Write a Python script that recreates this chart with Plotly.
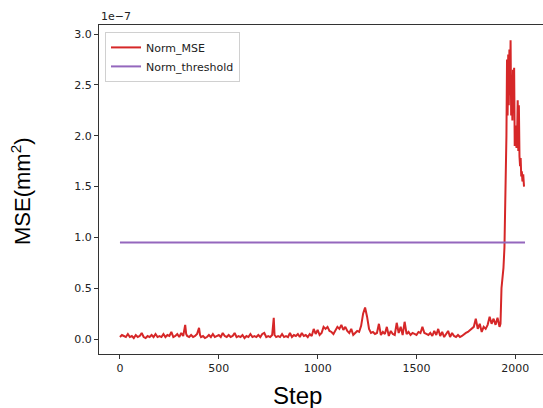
from plotly import graph_objects as go

# MSE values in units of 1e-7
steps = [
    0, 10, 20, 30, 40, 50, 60, 70, 80, 90, 100, 110, 120, 130, 140, 150, 160, 170, 180, 190,
    200, 210, 220, 230, 240, 250, 260, 270, 280, 290, 300, 310, 320, 330, 335, 340, 350, 360, 370, 380,
    390, 400, 405, 410, 420, 430, 440, 450, 460, 470, 480, 490, 500, 510, 520, 530, 540, 550, 560, 570,
    580, 590, 600, 610, 620, 630, 640, 650, 660, 670, 680, 690, 700, 710, 720, 730, 740, 750, 760, 770,
    778, 782, 790, 800, 810, 820, 830, 840, 850, 860, 870, 880, 890, 900, 910, 920, 930, 940, 950, 960,
    970, 980, 990, 1000, 1010, 1020, 1030, 1040, 1050, 1060, 1070, 1080, 1090, 1100, 1110, 1120, 1130, 1140, 1150, 1160,
    1170, 1180, 1190, 1200, 1210, 1220, 1230, 1240, 1250, 1260, 1270, 1280, 1290, 1300, 1310, 1320, 1330, 1340, 1350, 1360,
    1370, 1380, 1390, 1400, 1410, 1420, 1430, 1440, 1450, 1460, 1470, 1480, 1490, 1500, 1510, 1520, 1530, 1540, 1550, 1560,
    1570, 1580, 1590, 1600, 1610, 1620, 1630, 1640, 1650, 1660, 1670, 1680, 1690, 1700, 1710, 1720, 1730, 1740, 1750, 1760,
    1770, 1780, 1790, 1800, 1810, 1820, 1830, 1840, 1850, 1860, 1870, 1880, 1890, 1900, 1910, 1920, 1925, 1930, 1935, 1940,
    1945, 1950, 1955, 1958, 1961, 1964, 1967, 1970, 1973, 1976, 1979, 1982, 1985, 1988, 1991, 1994, 1997, 2000, 2003, 2006,
    2009, 2012, 2015, 2018, 2021, 2024, 2027, 2030, 2033, 2036, 2040, 2044,
]
norm_mse = [
    0.02, 0.04, 0.03, 0.02, 0.05, 0.02, 0.03, 0.01, 0.04, 0.02, 0.03, 0.06, 0.02, 0.01, 0.03, 0.02, 0.04, 0.02, 0.05, 0.02,
    0.03, 0.02, 0.05, 0.02, 0.04, 0.03, 0.07, 0.02, 0.03, 0.05, 0.02, 0.06, 0.03, 0.14, 0.05, 0.03, 0.02, 0.04, 0.02, 0.03,
    0.05, 0.11, 0.04, 0.02, 0.03, 0.01, 0.02, 0.04, 0.02, 0.05, 0.02, 0.03, 0.04, 0.02, 0.06, 0.03, 0.02, 0.04, 0.02, 0.03,
    0.06, 0.02, 0.03, 0.02, 0.04, 0.01, 0.03, 0.02, 0.05, 0.02, 0.03, 0.02, 0.04, 0.02, 0.05, 0.06, 0.02, 0.03, 0.02, 0.04,
    0.21, 0.04, 0.02, 0.03, 0.02, 0.05, 0.02, 0.03, 0.02, 0.06, 0.02, 0.04, 0.03, 0.05, 0.02, 0.06, 0.03, 0.04, 0.02, 0.05,
    0.03, 0.10, 0.05, 0.09, 0.04, 0.06, 0.12, 0.10, 0.12, 0.08, 0.07, 0.05, 0.09, 0.12, 0.10, 0.14, 0.09, 0.12, 0.08, 0.06,
    0.10, 0.04, 0.06, 0.08, 0.07, 0.13, 0.25, 0.31, 0.22, 0.10, 0.06, 0.07, 0.05, 0.06, 0.15, 0.04, 0.07, 0.05, 0.12, 0.03,
    0.08, 0.05, 0.04, 0.16, 0.06, 0.12, 0.04, 0.17, 0.05, 0.07, 0.04, 0.06, 0.05, 0.04, 0.07, 0.06, 0.12, 0.06, 0.05, 0.04,
    0.06, 0.03, 0.08, 0.04, 0.10, 0.03, 0.07, 0.02, 0.05, 0.08, 0.02, 0.06, 0.03, 0.02, 0.04, 0.02, 0.03, 0.05, 0.06, 0.07,
    0.09, 0.10, 0.12, 0.20, 0.10, 0.15, 0.07, 0.12, 0.10, 0.14, 0.22, 0.15, 0.20, 0.14, 0.21, 0.12, 0.15, 0.50, 0.60, 0.70,
    0.90, 1.30, 2.00, 2.75, 2.20, 2.80, 2.30, 2.85, 2.40, 2.94, 2.20, 2.60, 2.15, 2.65, 2.50, 2.67, 1.90, 2.10, 1.95, 1.88,
    2.00, 2.35, 1.85, 2.30, 1.80, 1.70, 1.78, 1.60, 1.65, 1.55, 1.62, 1.50,
]
threshold_steps = [0, 2049]
norm_threshold = [0.95, 0.95]

fig = go.Figure()
fig.add_trace(go.Scatter(
    x=steps, y=norm_mse, mode='lines', name='Norm_MSE',
    line=dict(color='#d62728', width=2)
))
fig.add_trace(go.Scatter(
    x=threshold_steps, y=norm_threshold, mode='lines', name='Norm_threshold',
    line=dict(color='#9467bd', width=2)
))

tick_font = dict(family='DejaVu Sans', size=11, color='#222')
fig.update_layout(
    width=543, height=408,
    margin=dict(l=99, r=0, t=25, b=54),
    plot_bgcolor='white', paper_bgcolor='white',
    showlegend=True,
    legend=dict(
        x=0.0135, y=0.979, xanchor='left', yanchor='top',
        bgcolor='white', bordercolor='#d0d0d0', borderwidth=1,
        font=dict(family='DejaVu Sans', size=11, color='#222'),
        itemwidth=30, tracegroupgap=0
    ),
    xaxis=dict(
        range=[-106, 2140], tickvals=[0, 500, 1000, 1500, 2000],
        showgrid=False, zeroline=False, showline=True, linecolor='#333', linewidth=1,
        mirror=True, ticks='outside', ticklen=4, tickcolor='#333', tickfont=tick_font
    ),
    yaxis=dict(
        range=[-0.147, 3.09], tickvals=[0, 0.5, 1.0, 1.5, 2.0, 2.5, 3.0], tickformat='.1f',
        showgrid=False, zeroline=False, showline=True, linecolor='#333', linewidth=1,
        ticks='outside', ticklen=4, tickcolor='#333', tickfont=tick_font
    ),
    annotations=[
        dict(text='1e\u22127', x=0, y=1.0, xref='paper', yref='paper',
             xanchor='left', yanchor='bottom', showarrow=False,
             font=dict(family='DejaVu Sans', size=11, color='#222')),
        dict(text='Step', x=0.448, y=-0.125, xref='paper', yref='paper',
             xanchor='center', yanchor='middle', showarrow=False,
             font=dict(family='Liberation Sans', size=24, color='black')),
        dict(text='MSE(mm<sup>2</sup>)', x=-0.176, y=0.495, xref='paper', yref='paper',
             xanchor='center', yanchor='middle', showarrow=False, textangle=-90,
             font=dict(family='Liberation Sans', size=22, color='black')),
    ]
)

# drop the page's default body margin so the figure sits at the window's corner
fig.write_html('out.html', config={'displayModeBar': False},
               post_script="document.body.style.margin='0';")
